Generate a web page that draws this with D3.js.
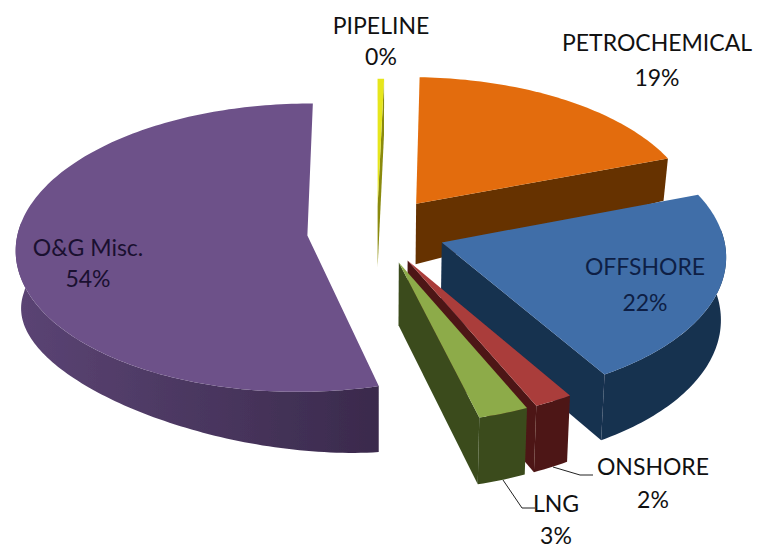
<!DOCTYPE html>
<html>
<head>
<meta charset="utf-8">
<script src="https://cdn.jsdelivr.net/npm/d3@7"></script>
<style>
  html, body { margin: 0; padding: 0; background: #fff; }
  text { font-family: Lato, "Open Sans", sans-serif; }
</style>
</head>
<body>
<div id="chart"></div>
<script>
var categories = ['PIPELINE', 'PETROCHEMICAL', 'OFFSHORE', 'ONSHORE', 'LNG', 'O&G Misc.'];
var values = [0.4, 19, 22, 2, 2.6, 54];

var topColors = ['#e6e61e', '#e36c09', '#3f6ea8', '#aa3c3a', '#8dab48', '#6d5189'];
var sideLight = ['#8a8a10', '#663200', '#16304f', '#4e1615', '#3b4c1d', '#5b4474'];
var sideDark = ['#8a8a10', '#663200', '#16304f', '#4e1615', '#3b4c1d', '#3a2a4c'];
var textColors = ['#111', '#111', '#0e1f45', '#111', '#111', '#1a1030'];

// label centres, one pair of baselines per category
var labelX = [381, 657, 645, 653, 556, 88];
var labelY = [34, 51, 275, 475, 512, 256];
var pctDy = [31, 35, 36, 33, 32, 31];

// how far each slice is pulled out of the pie
var explode = [0.18, 0.24, 0.24, 0.23, 0.23, 0.245];

var w = 759, h = 548;

// projection of the pie plane
var cx = 377, cy = 231,
	R = 285, Ry = 142,
	px = 0.085, qx = 0.01,
	shrink = 0.985;

function project(X, Y) {
	var s = 1 + px * Y + qx * X;
	return [cx + R * X / s, cy - Ry * Y / s];
}
function depthAt(X, Y) {
	return 62 - 4 * Y - 30 * Math.max(0, X * Y);
}
function projectLow(X, Y) {
	var p = project(X, Y);
	return [cx + (p[0] - cx) * shrink, p[1] + depthAt(X, Y)];
}

var svg = d3.select('#chart').append('svg')
	.attr('width', w)
	.attr('height', h)
	.style('display', 'block');

var defs = svg.append('defs');
defs.append('filter').attr('id', 'soft')
	.append('feGaussianBlur').attr('stdDeviation', 0.6);

var line = d3.line();
var arcs = d3.pie().sort(null).value(function(d) { return d; })(values);
var total = d3.sum(values);

var slices = arcs.map(function(a, i) {
	var mid = (a.startAngle + a.endAngle) / 2;
	return {
		i: i,
		a0: a.startAngle,
		a1: a.endAngle,
		ox: explode[i] * Math.sin(mid),
		oy: explode[i] * Math.cos(mid)
	};
});

function world(d, t, r) {
	return [d.ox + r * Math.sin(t), d.oy + r * Math.cos(t)];
}
function hi(d, t, r) {
	var q = world(d, t, r);
	return project(q[0], q[1]);
}
function lo(d, t, r) {
	var q = world(d, t, r);
	return projectLow(q[0], q[1]);
}
function steps(a, b) {
	var n = Math.max(2, Math.ceil((b - a) / 0.02));
	return d3.range(0, n + 1).map(function(k) { return a + (b - a) * k / n; });
}

var g = svg.append('g').attr('filter', 'url(#soft)');

// back to front
var order = [5, 0, 1, 2, 3, 4];
order.forEach(function(i) {
	var d = slices[i];
	var sg = g.append('g');

	// radial wall at the end of the slice, when it faces the viewer
	if (Math.sin(d.a1) > 0.01) {
		sg.append('path')
			.attr('fill', sideDark[i])
			.attr('d', line([hi(d, d.a1, 0), hi(d, d.a1, 1), lo(d, d.a1, 1), lo(d, d.a1, 0)]) + 'Z');
	}

	// outer wall, front half only
	var from = Math.max(d.a0, Math.PI * 0.47), to = Math.min(d.a1, Math.PI * 1.53);
	if (to > from) {
		var ts = steps(from, to);
		var upper = ts.map(function(t) { return hi(d, t, 1); });
		var lower = ts.slice().reverse().map(function(t) { return lo(d, t, 1); });
		var x = d3.extent(upper, function(p) { return p[0]; });
		var id = 'wall' + i;
		var grad = defs.append('linearGradient').attr('id', id)
			.attr('gradientUnits', 'userSpaceOnUse')
			.attr('x1', x[0]).attr('x2', x[1]).attr('y1', 0).attr('y2', 0);
		grad.append('stop').attr('offset', 0).attr('stop-color', sideLight[i]);
		grad.append('stop').attr('offset', 1).attr('stop-color', sideDark[i]);
		sg.append('path')
			.attr('fill', 'url(#' + id + ')')
			.attr('d', line(upper.concat(lower)) + 'Z');
	}

	// top face
	var rim = steps(d.a0, d.a1).map(function(t) { return hi(d, t, 1); });
	sg.append('path')
		.attr('fill', topColors[i])
		.attr('d', line([hi(d, d.a0, 0)].concat(rim)) + 'Z');
});

// leader lines for the two labels outside
var leaders = [
	[[503, 480], [522, 508], [535, 508]],
	[[553, 467], [580, 475], [593, 475]]
];
svg.selectAll('path.leader')
	.data(leaders)
	.enter().append('path')
	.attr('class', 'leader')
	.attr('fill', 'none')
	.attr('stroke', '#222')
	.attr('stroke-width', 1)
	.attr('d', function(d) { return line(d); });

// labels
var labels = svg.selectAll('g.label')
	.data(categories)
	.enter().append('g')
	.attr('class', 'label')
	.attr('text-anchor', 'middle')
	.attr('font-size', 23)
	.attr('fill', function(d, i) { return textColors[i]; })
	.attr('transform', function(d, i) { return 'translate(' + [labelX[i], labelY[i]] + ')'; });

labels.append('text').text(function(d) { return d; });
labels.append('text')
	.attr('y', function(d, i) { return pctDy[i]; })
	.text(function(d, i) { return Math.round(values[i] / total * 100) + '%'; });
</script>
</body>
</html>
